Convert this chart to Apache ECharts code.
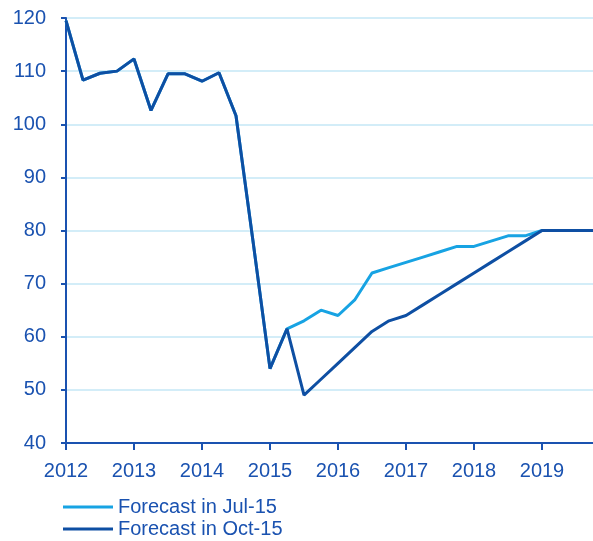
<!DOCTYPE html>
<html>
<head>
<meta charset="utf-8">
<script src="https://cdn.jsdelivr.net/npm/echarts@6/dist/echarts.min.js"></script>
<style>html,body{margin:0;padding:0;background:#fff;}#c{width:593px;height:541px;}</style>
</head>
<body>
<div id="c"></div>
<script>
var quarters = [
  '2012Q1','2012Q2','2012Q3','2012Q4',
  '2013Q1','2013Q2','2013Q3','2013Q4',
  '2014Q1','2014Q2','2014Q3','2014Q4',
  '2015Q1','2015Q2','2015Q3','2015Q4',
  '2016Q1','2016Q2','2016Q3','2016Q4',
  '2017Q1','2017Q2','2017Q3','2017Q4',
  '2018Q1','2018Q2','2018Q3','2018Q4',
  '2019Q1','2019Q2','2019Q3','2019Q4'
];
// shared history 2012Q1 .. 2015Q2
var pastValues = [119.5, 108.3, 109.6, 110, 112.3, 102.6, 109.5, 109.5, 108.1, 109.7, 101.6, 78, 54, 61.5];
// forecasts 2015Q3 .. 2019Q4
var julForecast = [63, 65, 64, 67, 72, 73, 74, 75, 76, 77, 77, 78, 79, 79, 80, 80, 80, 80];
var octForecast = [49, 52, 55, 58, 61, 63, 64, 66, 68, 70, 72, 74, 76, 78, 80, 80, 80, 80];
var seriesNames = ['Forecast in Jul-15', 'Forecast in Oct-15'];
var yTicks = [40, 50, 60, 70, 80, 90, 100, 110, 120];

var julData = pastValues.concat(julForecast);
var octData = pastValues.concat(octForecast);

var blue = '#1a52b0';
var font = 'Liberation Sans, Arial, sans-serif';
function legendFor(name, top) {
  return {
    data: [name],
    orient: 'vertical',
    left: 63, top: top,
    icon: 'rect',
    itemWidth: 50, itemHeight: 3,
    itemGap: 0,
    padding: 0,
    textStyle: {color: blue, fontSize: 20, fontFamily: font}
  };
}
var chart = echarts.init(document.getElementById('c'), null, {renderer: 'canvas'});
chart.setOption({
  animation: false,
  backgroundColor: '#ffffff',
  textStyle: {fontFamily: font},
  grid: {left: 66, right: 0, top: 18, bottom: 98, containLabel: false},
  legend: [legendFor(seriesNames[0], 497), legendFor(seriesNames[1], 519)],
  xAxis: {
    type: 'category',
    data: quarters,
    boundaryGap: false,
    axisLine: {lineStyle: {color: blue, width: 2}},
    axisTick: {interval: 3, length: 7, lineStyle: {color: blue, width: 2}},
    axisLabel: {
      interval: 3, margin: 18, color: blue, fontSize: 20,
      formatter: function (v) { return v.slice(0, 4); }
    },
    splitLine: {show: false}
  },
  yAxis: {
    type: 'value',
    min: yTicks[0], max: yTicks[yTicks.length - 1], interval: 10,
    axisLine: {show: true, lineStyle: {color: blue, width: 2}},
    axisTick: {show: true, inside: false, length: 5, lineStyle: {color: blue, width: 2}},
    axisLabel: {margin: 20, color: blue, fontSize: 20},
    splitLine: {show: true, lineStyle: {color: '#c4e7f6', width: 1.5}}
  },
  series: [
    {
      name: seriesNames[0], type: 'line', data: julData,
      symbol: 'none', lineStyle: {color: '#17a3e3', width: 3}, itemStyle: {color: '#17a3e3'}, z: 2
    },
    {
      name: seriesNames[1], type: 'line', data: octData,
      symbol: 'none', lineStyle: {color: '#0e4fa3', width: 3}, itemStyle: {color: '#0e4fa3'}, z: 3
    }
  ]
});
</script>
</body>
</html>
